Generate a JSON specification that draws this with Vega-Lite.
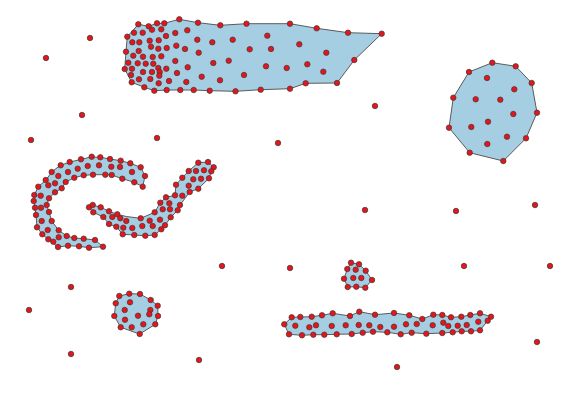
{
"$schema": "https://vega.github.io/schema/vega-lite/v6.json",
"autosize": {"type": "fit", "contains": "padding"},
"width": 569, "height": 400, "padding": 0,
"background": "white",
"config": {"view": {"stroke": null}},
"datasets": {
"hulls": [
{"g":1,"i":1,"x":138.3,"y":24.3},{"g":1,"i":2,"x":148.7,"y":26.3},{"g":1,"i":3,"x":157,"y":23.3},{"g":1,"i":4,"x":164.3,"y":23.3},{"g":1,"i":5,"x":179.3,"y":19.3},{"g":1,"i":6,"x":198,"y":22.7},{"g":1,"i":7,"x":220.3,"y":25.3},{"g":1,"i":8,"x":246.5,"y":23.7},{"g":1,"i":9,"x":290,"y":23.7},{"g":1,"i":10,"x":316.7,"y":28.3},{"g":1,"i":11,"x":348,"y":32.7},{"g":1,"i":12,"x":381.7,"y":33.7},{"g":1,"i":13,"x":354.3,"y":60},{"g":1,"i":14,"x":337,"y":83},{"g":1,"i":15,"x":305.7,"y":83.3},{"g":1,"i":16,"x":290,"y":88.7},{"g":1,"i":17,"x":260.7,"y":89.7},{"g":1,"i":18,"x":235.5,"y":91.3},{"g":1,"i":19,"x":209.7,"y":90.7},{"g":1,"i":20,"x":193.7,"y":90},{"g":1,"i":21,"x":180.3,"y":90},{"g":1,"i":22,"x":166.7,"y":90},{"g":1,"i":23,"x":154.3,"y":90.7},{"g":1,"i":24,"x":144.3,"y":87.3},{"g":1,"i":25,"x":131.7,"y":82.3},{"g":1,"i":26,"x":124.7,"y":69},{"g":1,"i":27,"x":126,"y":51.7},{"g":1,"i":28,"x":127.3,"y":36.7},
{"g":2,"i":1,"x":492.3,"y":62.7},{"g":2,"i":2,"x":515.7,"y":66.3},{"g":2,"i":3,"x":531.7,"y":83},{"g":2,"i":4,"x":537,"y":112.7},{"g":2,"i":5,"x":526,"y":138.3},{"g":2,"i":6,"x":503.3,"y":161},{"g":2,"i":7,"x":469.7,"y":152.7},{"g":2,"i":8,"x":449,"y":127.7},{"g":2,"i":9,"x":453.3,"y":97.7},{"g":2,"i":10,"x":469,"y":72},
{"g":3,"i":1,"x":140.7,"y":167.3},{"g":3,"i":2,"x":130.3,"y":163.3},{"g":3,"i":3,"x":120.7,"y":160.7},{"g":3,"i":4,"x":110,"y":159},{"g":3,"i":5,"x":100.3,"y":157.3},{"g":3,"i":6,"x":90.7,"y":157},{"g":3,"i":7,"x":80.7,"y":159.5},{"g":3,"i":8,"x":70,"y":162},{"g":3,"i":9,"x":60,"y":165.5},{"g":3,"i":10,"x":51.7,"y":172},{"g":3,"i":11,"x":46,"y":180},{"g":3,"i":12,"x":38.3,"y":186.7},{"g":3,"i":13,"x":34.3,"y":195},{"g":3,"i":14,"x":33.7,"y":201},{"g":3,"i":15,"x":35,"y":207.7},{"g":3,"i":16,"x":36,"y":215},{"g":3,"i":17,"x":37,"y":227.3},{"g":3,"i":18,"x":42.3,"y":234.3},{"g":3,"i":19,"x":48.3,"y":239.3},{"g":3,"i":20,"x":58,"y":247},{"g":3,"i":21,"x":68,"y":245.7},{"g":3,"i":22,"x":79,"y":246.3},{"g":3,"i":23,"x":89,"y":247.7},{"g":3,"i":24,"x":103,"y":246.7},{"g":3,"i":25,"x":95,"y":240},{"g":3,"i":26,"x":83.7,"y":238.7},{"g":3,"i":27,"x":74.3,"y":238},{"g":3,"i":28,"x":66.7,"y":236},{"g":3,"i":29,"x":58.7,"y":230.3},{"g":3,"i":30,"x":51.7,"y":221},{"g":3,"i":31,"x":49,"y":212},{"g":3,"i":32,"x":46.7,"y":205},{"g":3,"i":33,"x":49,"y":198.3},{"g":3,"i":34,"x":55,"y":192.3},{"g":3,"i":35,"x":61.7,"y":188.3},{"g":3,"i":36,"x":65.7,"y":182},{"g":3,"i":37,"x":74.3,"y":177.7},{"g":3,"i":38,"x":83.7,"y":175.3},{"g":3,"i":39,"x":93,"y":174.7},{"g":3,"i":40,"x":105.3,"y":174.7},{"g":3,"i":41,"x":111.7,"y":175},{"g":3,"i":42,"x":122.3,"y":178.7},{"g":3,"i":43,"x":134.3,"y":182.3},{"g":3,"i":44,"x":142.7,"y":186.7},{"g":3,"i":45,"x":145,"y":176}, 
{"g":4,"i":1,"x":89,"y":207.3},{"g":4,"i":2,"x":92.7,"y":205},{"g":4,"i":3,"x":100.7,"y":207.3},{"g":4,"i":4,"x":109,"y":211.3},{"g":4,"i":5,"x":117.3,"y":214.3},{"g":4,"i":6,"x":126.3,"y":216.5},{"g":4,"i":7,"x":140.7,"y":218.3},{"g":4,"i":8,"x":154.7,"y":212.3},{"g":4,"i":9,"x":160.3,"y":202.7},{"g":4,"i":10,"x":166,"y":197.3},{"g":4,"i":11,"x":175,"y":195.3},{"g":4,"i":12,"x":176,"y":184.7},{"g":4,"i":13,"x":182.3,"y":177.7},{"g":4,"i":14,"x":188.7,"y":171},{"g":4,"i":15,"x":198.3,"y":162.7},{"g":4,"i":16,"x":208,"y":162},{"g":4,"i":17,"x":213.7,"y":167.3},{"g":4,"i":18,"x":211.3,"y":171.3},{"g":4,"i":19,"x":209,"y":178.3},{"g":4,"i":20,"x":198.3,"y":188.7},{"g":4,"i":21,"x":189.7,"y":192},{"g":4,"i":22,"x":180,"y":205},{"g":4,"i":23,"x":177.7,"y":210.3},{"g":4,"i":24,"x":170.7,"y":217.3},{"g":4,"i":25,"x":165,"y":225.3},{"g":4,"i":26,"x":161.3,"y":229.3},{"g":4,"i":27,"x":154.7,"y":235},{"g":4,"i":28,"x":145.3,"y":235.7},{"g":4,"i":29,"x":134.3,"y":235},{"g":4,"i":30,"x":122.7,"y":234.3},{"g":4,"i":31,"x":116.3,"y":226.7},{"g":4,"i":32,"x":109,"y":224},{"g":4,"i":33,"x":103.3,"y":217},{"g":4,"i":34,"x":93.3,"y":212.3},
{"g":5,"i":1,"x":119.3,"y":296},{"g":5,"i":2,"x":129.3,"y":293.7},{"g":5,"i":3,"x":140,"y":294},{"g":5,"i":4,"x":150.7,"y":300},{"g":5,"i":5,"x":157.7,"y":305.7},{"g":5,"i":6,"x":158,"y":316},{"g":5,"i":7,"x":155.3,"y":324.3},{"g":5,"i":8,"x":139.7,"y":334},{"g":5,"i":9,"x":120.7,"y":327.3},{"g":5,"i":10,"x":114.3,"y":316},{"g":5,"i":11,"x":115.7,"y":303.3},
{"g":6,"i":1,"x":351,"y":262.7},{"g":6,"i":2,"x":359,"y":264.3},{"g":6,"i":3,"x":365.7,"y":270.7},{"g":6,"i":4,"x":372,"y":280},{"g":6,"i":5,"x":365.3,"y":287.7},{"g":6,"i":6,"x":356.3,"y":286.7},{"g":6,"i":7,"x":347.7,"y":287},{"g":6,"i":8,"x":344,"y":278.7},{"g":6,"i":9,"x":347.3,"y":269},
{"g":7,"i":1,"x":284.3,"y":324.3},{"g":7,"i":2,"x":291.7,"y":317.3},{"g":7,"i":3,"x":300.3,"y":317},{"g":7,"i":4,"x":311.7,"y":316.7},{"g":7,"i":5,"x":322,"y":315.3},{"g":7,"i":6,"x":332.7,"y":313.3},{"g":7,"i":7,"x":350,"y":316},{"g":7,"i":8,"x":359.3,"y":311.7},{"g":7,"i":9,"x":375,"y":314.7},{"g":7,"i":10,"x":394,"y":313},{"g":7,"i":11,"x":409.3,"y":315.3},{"g":7,"i":12,"x":422.3,"y":319},{"g":7,"i":13,"x":433.3,"y":314.7},{"g":7,"i":14,"x":442.3,"y":315},{"g":7,"i":15,"x":451,"y":317.3},{"g":7,"i":16,"x":461.3,"y":316.7},{"g":7,"i":17,"x":470.3,"y":315},{"g":7,"i":18,"x":480,"y":313.3},{"g":7,"i":19,"x":491,"y":316.7},{"g":7,"i":20,"x":487.7,"y":320.7},{"g":7,"i":21,"x":480,"y":330.3},{"g":7,"i":22,"x":471,"y":331.3},{"g":7,"i":23,"x":461.7,"y":331.3},{"g":7,"i":24,"x":452.7,"y":332.3},{"g":7,"i":25,"x":442.3,"y":333},{"g":7,"i":26,"x":426.3,"y":333.7},{"g":7,"i":27,"x":411.7,"y":332.7},{"g":7,"i":28,"x":400.7,"y":334.3},{"g":7,"i":29,"x":387.3,"y":332.3},{"g":7,"i":30,"x":373,"y":331.7},{"g":7,"i":31,"x":362.7,"y":332.7},{"g":7,"i":32,"x":351.7,"y":334},{"g":7,"i":33,"x":336.7,"y":334.3},{"g":7,"i":34,"x":324.3,"y":334.7},{"g":7,"i":35,"x":313.3,"y":334.7},{"g":7,"i":36,"x":302,"y":335.3},{"g":7,"i":37,"x":289,"y":334.3}
],
"points": [
{"x":138.3,"y":24.3},{"x":148.7,"y":26.3},{"x":157,"y":23.3},{"x":164.3,"y":23.3},{"x":179.3,"y":19.3},{"x":198,"y":22.7},{"x":220.3,"y":25.3},{"x":246.5,"y":23.7},{"x":152,"y":29.7},{"x":161.3,"y":29.3},{"x":134,"y":32.7},{"x":142.7,"y":32.7},{"x":175.3,"y":33},{"x":187.3,"y":30.3},{"x":127.3,"y":36.7},{"x":166,"y":36},{"x":132.3,"y":42.3},{"x":139.3,"y":42.3},{"x":149.7,"y":40.7},{"x":158.7,"y":40.3},{"x":197.3,"y":39.7},{"x":212.3,"y":42.3},{"x":232.7,"y":39.7},{"x":151,"y":46.7},{"x":158.3,"y":48.7},{"x":166.7,"y":48},{"x":176.3,"y":45.7},{"x":185,"y":49},{"x":198.7,"y":52.7},{"x":126,"y":51.7},{"x":138.7,"y":51},{"x":133.3,"y":55.7},{"x":143,"y":56.7},{"x":152.7,"y":57},{"x":161.3,"y":56.3},{"x":175.3,"y":61},{"x":213.3,"y":63},{"x":228.7,"y":60.7},{"x":128.3,"y":62.7},{"x":137.7,"y":63.3},{"x":145.7,"y":63.7},{"x":153.3,"y":63.7},{"x":124.7,"y":69},{"x":132,"y":68.7},{"x":158.3,"y":68},{"x":166.3,"y":68.7},{"x":187.7,"y":67.3},{"x":143,"y":72},{"x":152,"y":72},{"x":159.7,"y":72},{"x":177,"y":73},{"x":201.7,"y":76.7},{"x":244,"y":75},{"x":131,"y":75},{"x":139,"y":79.3},{"x":150.3,"y":79},{"x":159.3,"y":75.7},{"x":169,"y":81},{"x":186.3,"y":82},{"x":220,"y":80.3},{"x":131.7,"y":82.3},{"x":158.7,"y":83.3},{"x":144.3,"y":87.3},{"x":154.3,"y":90.7},{"x":166.7,"y":90},{"x":180.3,"y":90},{"x":193.7,"y":90},{"x":209.7,"y":90.7},{"x":235.5,"y":91.3},
{"x":290,"y":23.7},{"x":316.7,"y":28.3},{"x":348,"y":32.7},{"x":381.7,"y":33.7},{"x":267.3,"y":35.7},{"x":299.3,"y":44.3},{"x":249.7,"y":49.3},{"x":271,"y":49},{"x":326.3,"y":52.7},{"x":354.3,"y":60},{"x":266,"y":66.3},{"x":286.7,"y":68},{"x":307.3,"y":64.3},{"x":323.3,"y":71.7},{"x":260.7,"y":89.7},{"x":290,"y":88.7},{"x":305.7,"y":83.3},{"x":337,"y":83},
{"x":492.3,"y":62.7},{"x":515.7,"y":66.3},{"x":469,"y":72},{"x":531.7,"y":83},{"x":487,"y":78},{"x":514.3,"y":89.3},{"x":453.3,"y":97.7},{"x":475.7,"y":99.3},{"x":500.3,"y":99.7},{"x":537,"y":112.7},{"x":513.3,"y":114},{"x":488,"y":121.7},{"x":449,"y":127.7},{"x":471.3,"y":127},{"x":507,"y":136.7},{"x":526,"y":138.3},{"x":487.3,"y":144},{"x":469.7,"y":152.7},{"x":503.3,"y":161},
{"x":140.7,"y":167.3},{"x":130.3,"y":163.3},{"x":120.7,"y":160.7},{"x":110,"y":159},{"x":100.3,"y":157.3},{"x":91.7,"y":156.7},{"x":81,"y":159.3},{"x":69.7,"y":162},{"x":60.7,"y":165.3},{"x":51.7,"y":172},{"x":45.7,"y":180},{"x":38.3,"y":186.7},{"x":34.3,"y":195},{"x":33.7,"y":201},{"x":35,"y":207.7},{"x":36,"y":215},{"x":37,"y":227.3},{"x":42.3,"y":234.3},{"x":48.3,"y":239.3},{"x":58,"y":247},{"x":68,"y":245.7},{"x":79,"y":246.3},{"x":89,"y":247.7},{"x":103,"y":246.7},{"x":142.7,"y":186.7},{"x":145,"y":176},
{"x":134.3,"y":182.3},{"x":122.3,"y":178.7},{"x":111.7,"y":175},{"x":105.3,"y":174.7},{"x":93,"y":174.7},{"x":83.7,"y":175.3},{"x":74.3,"y":177.7},{"x":65.7,"y":182},{"x":61.7,"y":188.3},{"x":55,"y":192.3},{"x":49,"y":198.3},{"x":46.7,"y":205},{"x":49,"y":212},{"x":51.7,"y":221},{"x":58.7,"y":230.3},{"x":66.7,"y":236},{"x":74.3,"y":238},{"x":83.7,"y":238.7},{"x":95,"y":240},
{"x":132,"y":172},{"x":120,"y":167},{"x":111.3,"y":166.7},{"x":99,"y":165.3},{"x":87.7,"y":166},{"x":77.7,"y":168.7},{"x":68,"y":172},{"x":58.3,"y":176},{"x":55,"y":183.3},{"x":48.3,"y":185.3},{"x":40.7,"y":195.7},{"x":41,"y":207.7},{"x":41.7,"y":221},{"x":47.7,"y":230},{"x":53.3,"y":241.7},{"x":58.7,"y":237.3},
{"x":89,"y":207.3},{"x":92.7,"y":205},{"x":93.3,"y":212.3},{"x":100.7,"y":207.3},{"x":103.3,"y":217},{"x":109,"y":211.3},{"x":112.3,"y":217},{"x":109,"y":224},{"x":117.3,"y":214.3},{"x":120.3,"y":218.3},{"x":116.3,"y":226.7},{"x":123.3,"y":227.7},{"x":126.3,"y":221},{"x":122.7,"y":234.3},{"x":132.3,"y":228},{"x":134.3,"y":235},{"x":140.7,"y":218.3},
{"x":142.3,"y":226},{"x":145.3,"y":235.7},{"x":149.7,"y":220.7},{"x":152.7,"y":226},{"x":154.7,"y":235},{"x":154.7,"y":212.3},{"x":160,"y":219.7},{"x":161.3,"y":229.3},{"x":165,"y":225.3},{"x":160.3,"y":202.7},{"x":162.7,"y":209.3},{"x":170,"y":209.3},{"x":177.7,"y":210.3},{"x":170.7,"y":217.3},{"x":169.3,"y":203.3},{"x":180,"y":205},{"x":166,"y":197.3},{"x":175,"y":195.3},{"x":182.3,"y":195.7},{"x":189.7,"y":192},{"x":176,"y":184.7},{"x":188.7,"y":185.7},{"x":198.3,"y":188.7},{"x":182.3,"y":177.7},{"x":193.3,"y":179.3},{"x":201,"y":178.7},{"x":209,"y":178.3},{"x":188.7,"y":171},{"x":196,"y":171},{"x":204,"y":170.3},{"x":198.3,"y":162.7},{"x":208,"y":162},{"x":213.7,"y":167.3},{"x":211.3,"y":171.3},
{"x":119.3,"y":296},{"x":129.3,"y":293.7},{"x":140,"y":294},{"x":115.7,"y":303.3},{"x":130,"y":302.3},{"x":150.7,"y":300},{"x":157.7,"y":305.7},{"x":124.7,"y":310},{"x":150.3,"y":310},{"x":114.3,"y":316},{"x":138,"y":315.7},{"x":149.3,"y":314.3},{"x":158,"y":316},{"x":125,"y":319.7},{"x":143.3,"y":324.3},{"x":155.3,"y":324.3},{"x":120.7,"y":327.3},{"x":131.7,"y":327.3},{"x":139.7,"y":334},
{"x":351,"y":262.7},{"x":359,"y":264.3},{"x":347.3,"y":269},{"x":355.7,"y":269.7},{"x":365.7,"y":270.7},{"x":344,"y":278.7},{"x":353.3,"y":278},{"x":361.3,"y":278},{"x":372,"y":280},{"x":347.7,"y":287},{"x":356.3,"y":286.7},{"x":365.3,"y":287.7},
{"x":284.3,"y":324.3},{"x":291.7,"y":317.3},{"x":300.3,"y":317},{"x":311.7,"y":316.7},{"x":322,"y":315.3},{"x":332.7,"y":313.3},{"x":350,"y":316},{"x":359.3,"y":311.7},{"x":375,"y":314.7},{"x":295.3,"y":325.7},{"x":309.3,"y":327.3},{"x":316,"y":325.3},{"x":331.7,"y":326},{"x":345.7,"y":325.3},{"x":358.7,"y":325},{"x":369.3,"y":325.3},{"x":380.3,"y":327},{"x":289,"y":334.3},{"x":302,"y":335.3},{"x":313.3,"y":334.7},{"x":324.3,"y":334.7},{"x":336.7,"y":334.3},{"x":351.7,"y":334},{"x":362.7,"y":332.7},{"x":373,"y":331.7},
{"x":394,"y":313},{"x":409.3,"y":315.3},{"x":422.3,"y":319},{"x":433.3,"y":314.7},{"x":442.3,"y":315},{"x":451,"y":317.3},{"x":461.3,"y":316.7},{"x":470.3,"y":315},{"x":480,"y":313.3},{"x":491,"y":316.7},{"x":394,"y":326.7},{"x":406,"y":324.3},{"x":416.7,"y":324},{"x":432.7,"y":325.3},{"x":443.3,"y":322.7},{"x":448.3,"y":326},{"x":457.7,"y":325.7},{"x":466.7,"y":325},{"x":478.3,"y":321.7},{"x":487.7,"y":320.7},{"x":387.3,"y":332.3},{"x":400.7,"y":334.3},{"x":411.7,"y":332.7},{"x":426.3,"y":333.7},{"x":442.3,"y":333},{"x":452.7,"y":332.3},{"x":461.7,"y":331.3},{"x":471,"y":331.3},{"x":480,"y":330.3},
{"x":46,"y":58},{"x":90,"y":38},{"x":82,"y":115},{"x":31,"y":140},{"x":157,"y":138},{"x":278,"y":143},{"x":375,"y":106},{"x":365,"y":210},{"x":456,"y":211},{"x":535,"y":205},{"x":222,"y":266},{"x":290,"y":268},{"x":464,"y":266},{"x":550,"y":266},{"x":71,"y":287},{"x":29,"y":310},{"x":71,"y":354},{"x":199,"y":360},{"x":397,"y":367},{"x":537,"y":342}
]
},
"layer": [
{
"data": {"name": "hulls"},
"mark": {"type": "line", "interpolate": "linear-closed", "fill": "#a6cee3", "stroke": "#5a5a5a", "strokeWidth": 1, "strokeJoin": "round"},
"encoding": {
"x": {"field": "x", "type": "quantitative", "scale": {"domain": [0, 569], "nice": false, "zero": false}, "axis": null},
"y": {"field": "y", "type": "quantitative", "scale": {"domain": [0, 400], "nice": false, "zero": false, "reverse": true}, "axis": null},
"detail": {"field": "g", "type": "nominal"},
"order": {"field": "i", "type": "quantitative"}
}
},
{
"data": {"name": "points"},
"mark": {"type": "circle", "size": 30, "fill": "#e8141c", "stroke": "#3a3a3a", "strokeWidth": 0.7, "opacity": 1},
"encoding": {
"x": {"field": "x", "type": "quantitative", "axis": null},
"y": {"field": "y", "type": "quantitative", "axis": null}
}
}
]
}
